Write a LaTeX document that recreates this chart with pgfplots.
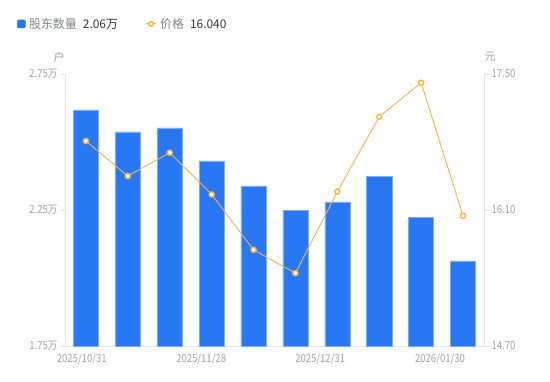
\documentclass[border=0pt]{standalone}
\usepackage{pgfplots}
\pgfplotsset{compat=1.18}
\usepackage{fontspec}
\setmainfont{Noto Sans CJK SC}
\newfontfamily\narrowfont[FakeStretch=0.87]{Noto Sans CJK SC}
\definecolor{barblue}{HTML}{2878F5}
\definecolor{baredge}{HTML}{7AAEF7}
\definecolor{lineor}{HTML}{F7B440}
\definecolor{tickgray}{HTML}{9EA1AB}
\definecolor{axgray}{HTML}{E3E5EA}
\definecolor{legdark}{HTML}{33363D}
\definecolor{leggray}{HTML}{80838C}
\begin{document}
\begin{tikzpicture}[x=1bp,y=1bp]
\path[use as bounding box] (0,0) rectangle (550,381);
\pgfplotsset{
  common/.style={
    at={(65bp,35bp)}, anchor=south west,
    scale only axis, width=419bp, height=272bp,
    xmin=-0.5, xmax=9.5,
    axis line style={axgray, line width=0.8bp},
    tick align=outside, major tick length=4bp,
    ticklabel style={font=\narrowfont\fontsize{11}{12}\selectfont, text=tickgray},
    ytick style={axgray, line width=0.8bp},
  }
}
\begin{axis}[common,
  ymin=1.75, ymax=2.75,
  axis y line*=left, axis x line*=bottom,
  ytick={1.75,2.25,2.75}, yticklabels={1.75万,2.25万,2.75万},
  xtick={-0.1,2.75,5.59,8.45},
  xticklabels={2025/10/31,2025/11/28,2025/12/31,2026/01/30},
  xtick style={draw=none},
  ybar, bar width=0.6,
]
\addplot[fill=barblue, draw=baredge, line width=0.5bp] coordinates {
(0,2.618) (1,2.537) (2,2.552) (3,2.431) (4,2.339)
(5,2.250) (6,2.280) (7,2.374) (8,2.222) (9,2.063)};
\end{axis}
\begin{axis}[common,
  ymin=14.7, ymax=17.5,
  axis y line*=right, axis x line=none,
  ytick={14.7,16.1,17.5}, yticklabels={14.70,16.10,17.50},
  clip=false,
  legend columns=2,
  legend style={at={(-0.1146,1.184)}, anchor=west, draw=none, fill=none,
    inner sep=0pt, font=\fontsize{12}{14}\selectfont,
    /tikz/every even column/.append style={column sep=24bp},
    nodes={inner sep=3.5bp}},
]
\addlegendimage{legend image code/.code={\fill[barblue, rounded corners=1bp] (0bp,-4bp) rectangle (8bp,4bp);}}
\addlegendentry{\textcolor{leggray}{股东数量}\hspace{6bp}\textcolor{legdark}{2.06万}}
\addplot[lineor, line width=0.9bp, mark=*, mark size=2.6bp,
  mark options={fill=white, draw=lineor, line width=1.4bp},
  legend image code/.code={\draw[lineor, line width=1bp] (0bp,0bp)--(10bp,0bp);
    \draw[lineor, fill=white, line width=1.4bp] (5bp,0bp) circle (2.4bp);}]
 coordinates {
(0,16.81) (1,16.45) (2,16.69) (3,16.26) (4,15.69)
(5,15.45) (6,16.29) (7,17.06) (8,17.41) (9,16.04)};
\addlegendentry{\textcolor{leggray}{价格}\hspace{6bp}\textcolor{legdark}{16.040}}
\end{axis}
\node[font=\fontsize{11}{12}\selectfont, text=tickgray] at (59,324) {户};
\node[font=\fontsize{11}{12}\selectfont, text=tickgray] at (490,324) {元};
\end{tikzpicture}
\end{document}
